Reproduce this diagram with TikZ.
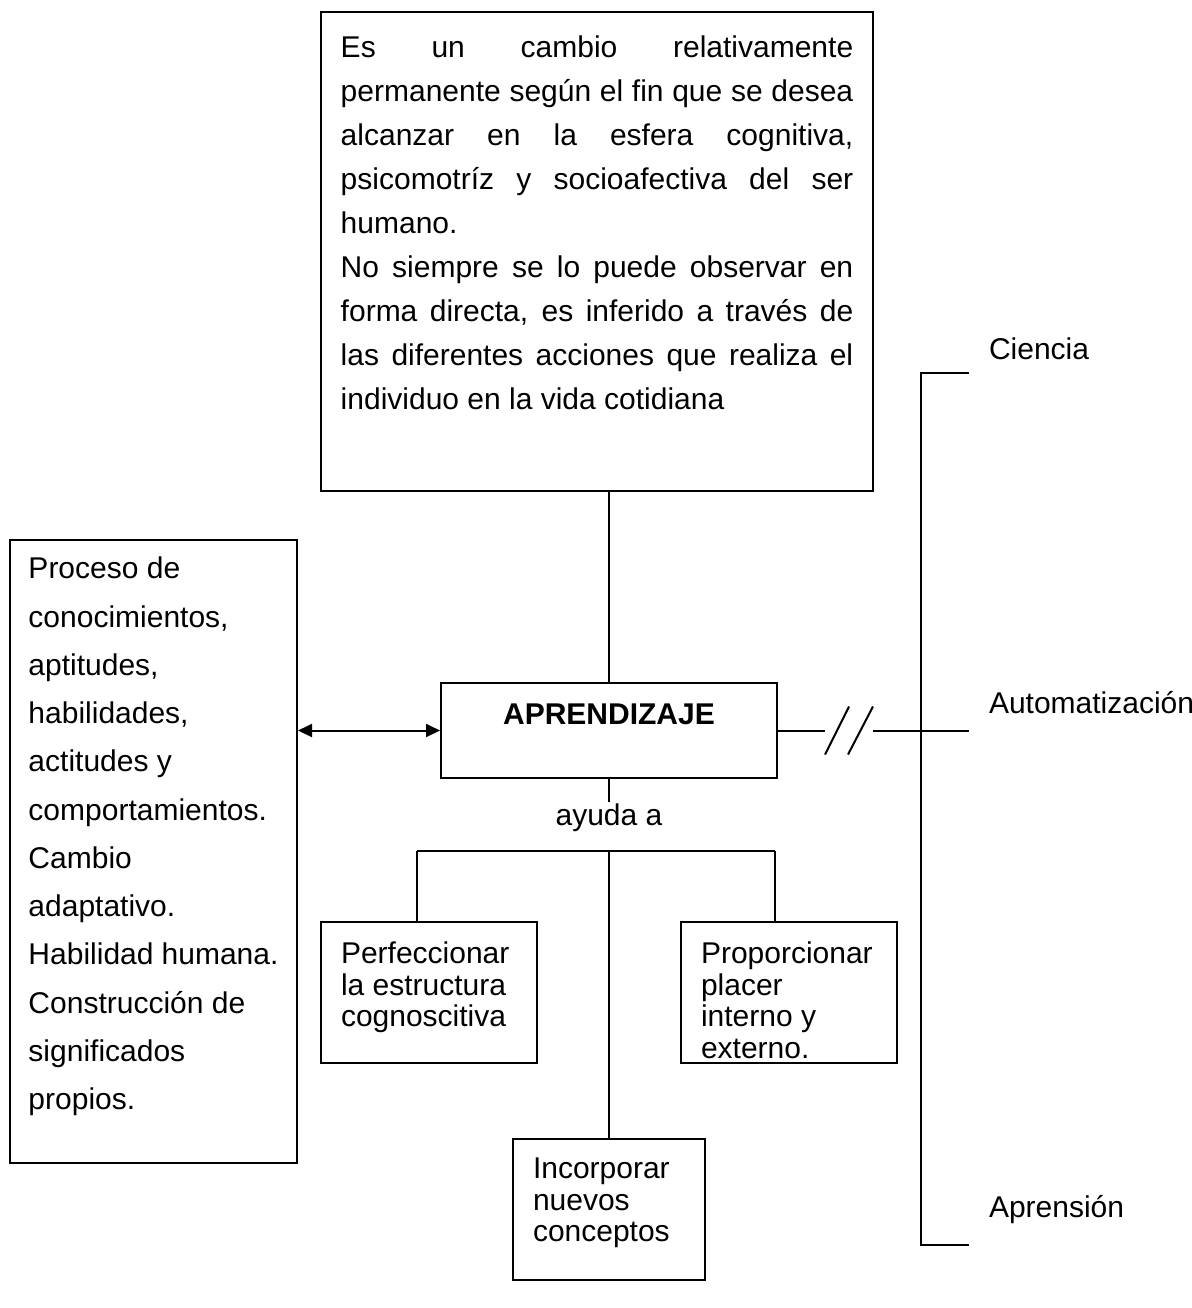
\documentclass[tikz,border=0pt]{standalone}
\usepackage{fontspec}
\setmainfont{Liberation Sans}
\usetikzlibrary{arrows.meta}

\begin{document}
\begin{tikzpicture}[
  x=0.4pt, y=-0.4pt,
  line width=0.8pt,
  >={Triangle[length=5.6pt, width=5.2pt]},
  caja/.style={rectangle, draw, inner xsep=8pt, inner ysep=8pt, font=\fontsize{12}{12.6}\selectfont},
  etiqueta/.style={inner sep=0pt, font=\fontsize{12}{14}\selectfont}
]
  \useasboundingbox (0,0) rectangle (1192,1308);
  % cajas
  \node[caja, inner xsep=7.9pt, inner ysep=9.6pt, font=\fontsize{12}{17.6}\selectfont] (def) at (597,251.5)
    {\parbox[c][172.4pt][t]{205pt}{Es un cambio relativamente\linebreak
     permanente según el fin que se desea\linebreak
     alcanzar en la esfera cognitiva,\linebreak
     psicomotríz y socioafectiva del ser\linebreak
     humano.\\
     No siempre se lo puede observar en\linebreak
     forma directa, es inferido a través de\linebreak
     las diferentes acciones que realiza el\linebreak
     individuo en la vida cotidiana}};
  \node[caja, inner xsep=7.4pt, inner ysep=6.8pt, font=\fontsize{12}{19.3}\selectfont] (izq) at (153.5,851.5)
    {\parbox[c][235.6pt][t]{100pt}{Proceso de\\conocimientos,\\aptitudes,\\habilidades,\\actitudes y\\comportamientos.\\Cambio\\adaptativo.\\Habilidad humana.\\Construcción de\\significados\\propios.}};
  \node[caja, font=\fontsize{12}{14}\selectfont\bfseries, minimum width=134.4pt, text height=8.6pt, text depth=13.4pt] (apr) at (609,730.5) {APRENDIZAJE};
  \node[caja] (perf) at (429,992.5)
    {\parbox[c][40.4pt][t]{70.4pt}{Perfeccionar\\la estructura\\cognoscitiva}};
  \node[caja] (prop) at (789,992.5)
    {\parbox[c][40.4pt][t]{70.4pt}{Proporcionar\\placer\\interno y\\externo.}};
  \node[caja, inner ysep=7.6pt] (inc) at (609,1209.5)
    {\parbox[c][41.2pt][t]{60.8pt}{Incorporar\\nuevos\\conceptos}};
  % etiquetas
  \node[etiqueta, anchor=base] (ayuda) at (609,825) {ayuda a};
  \node[etiqueta, anchor=base west] (cien) at (988,359) {Ciencia};
  \node[etiqueta, anchor=base west] (auto) at (988,713) {Automatización};
  \node[etiqueta, anchor=base west] (apren) at (988,1217) {Aprensión};
  % puntos de la llave
  \coordinate (corte1) at (825,730.5);
  \coordinate (corte2) at (873,730.5);
  \coordinate (finA) at (969,373);
  \coordinate (finB) at (969,730.5);
  \coordinate (finC) at (969,1245);
  \coordinate (esqA) at (921,373);
  \coordinate (esqC) at (921,1245);
  \coordinate (ramaI) at (417,851);
  \coordinate (ramaD) at (775,851);
  % conexiones
  \draw (def.south -| apr.north) -- (apr.north);
  \draw[<->] (izq.east |- apr.west) -- (apr.west);
  \draw (apr.east) -- (corte1);
  \draw (corte1) ++(0,24) -- ++(24,-48);
  \draw (corte2) ++(-25,24) -- ++(25,-48);
  \draw (corte2) -- (finB);
  \draw (finA) -- (esqA) -- (esqC) -- (finC);
  \draw (apr.south) -- (ayuda.north);
  \draw (ramaI) -- (ramaD);
  \draw (ramaI) -- (ramaI |- perf.north);
  \draw (ramaD) -- (ramaD |- prop.north);
  \draw (inc.north |- ramaI) -- (inc.north);
\end{tikzpicture}
\end{document}
